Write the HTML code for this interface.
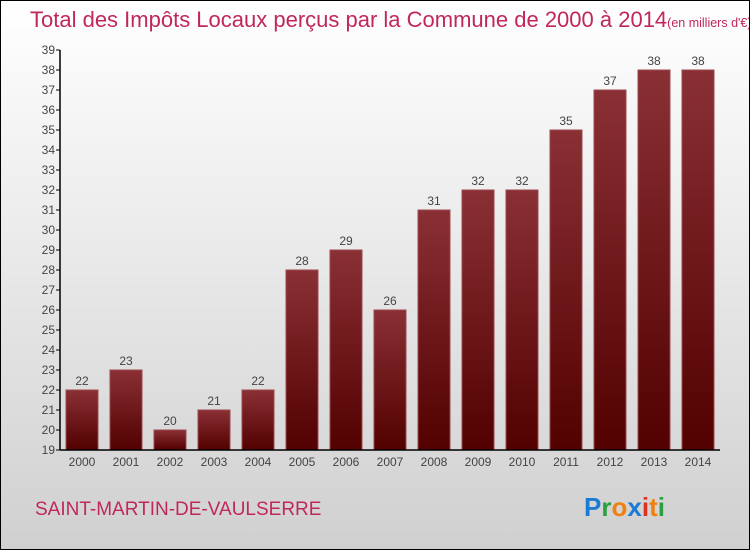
<!DOCTYPE html>
<html><head><meta charset="utf-8"><style>
html,body{margin:0;padding:0}
body{width:750px;height:550px;overflow:hidden;font-family:"Liberation Sans",sans-serif}
#wrap{position:relative;width:748px;height:548px;border:1px solid #000;background:linear-gradient(#ffffff,#d0d0d0)}
</style></head><body>
<div id="wrap">
<svg width="748" height="548" viewBox="1 1 748 548" id="chart">
<defs>
<linearGradient id="bg" x1="0" y1="0" x2="0" y2="1"><stop offset="0" stop-color="#8a3035"/><stop offset="1" stop-color="#520000"/></linearGradient>
</defs>
<text x="30" y="27" font-size="22" fill="#c0285a">Total des Impôts Locaux perçus par la Commune de 2000 à 2014<tspan font-size="12.5">(en milliers d'€)</tspan></text>
<g id="yaxis"></g>
<g id="bars"></g>
<g id="xaxis"></g>
<text x="35" y="515" font-size="19" fill="#c0285a">SAINT-MARTIN-DE-VAULSERRE</text>
<text x="584" y="516" font-size="26" font-weight="bold"><tspan fill="#1a7ad4">P</tspan><tspan fill="#2aa040">r</tspan><tspan fill="#f08010">o</tspan><tspan fill="#1a7ad4">x</tspan><tspan fill="#e03020">i</tspan><tspan fill="#f08010">t</tspan><tspan fill="#2aa040">i</tspan></text>
</svg>
</div>
<script>
const categories=["2000","2001","2002","2003","2004","2005","2006","2007","2008","2009","2010","2011","2012","2013","2014"];
const values=[22,23,20,21,22,28,29,26,31,32,32,35,37,38,38];
const yTicks=[19,20,21,22,23,24,25,26,27,28,29,30,31,32,33,34,35,36,37,38,39];
const NS="http://www.w3.org/2000/svg";
const yMin=19,yMax=39,yTop=50,yBot=450,x0=60,x1=720;
const y=v=>yBot-(v-yMin)/(yMax-yMin)*(yBot-yTop);
const step=44,bw=32;
const xc=i=>82+i*step;
function mk(t,a,p){const e=document.createElementNS(NS,t);for(const k in a)e.setAttribute(k,a[k]);p.appendChild(e);return e;}
const ya=document.getElementById('yaxis'),ba=document.getElementById('bars'),xa=document.getElementById('xaxis');
const yl=mk('line',{x1:x0,y1:yTop,x2:x0,y2:yBot,stroke:'#000','stroke-width':1.5},ya);


yTicks.forEach(v=>{
 const t=mk('line',{x1:x0-4,y1:y(v),x2:x0,y2:y(v),stroke:'#000'},ya);
 
 
 const l=mk('text',{x:x0-5,y:y(v)+4,'font-size':12,fill:'#444','text-anchor':'end'},ya);
 l.textContent=v;
 
 
});
const xl=mk('line',{x1:x0,y1:yBot,x2:x1,y2:yBot,stroke:'#000','stroke-width':1.5},xa);


categories.forEach((c,i)=>{
 const v=values[i];
 const r=mk('rect',{x:xc(i)-bw/2,y:y(v),width:bw,height:yBot-y(v),fill:'url(#bg)',stroke:'#9a4a4f','stroke-width':1},ba);
 
 
 const vl=mk('text',{x:xc(i),y:y(v)-5,'font-size':12,fill:'#444','text-anchor':'middle'},ba);
 vl.textContent=v;
 
 
 const xt=mk('text',{x:xc(i),y:yBot+16,'font-size':12,fill:'#444','text-anchor':'middle'},xa);
 xt.textContent=c;
 
 
});
</script>
</body></html>
